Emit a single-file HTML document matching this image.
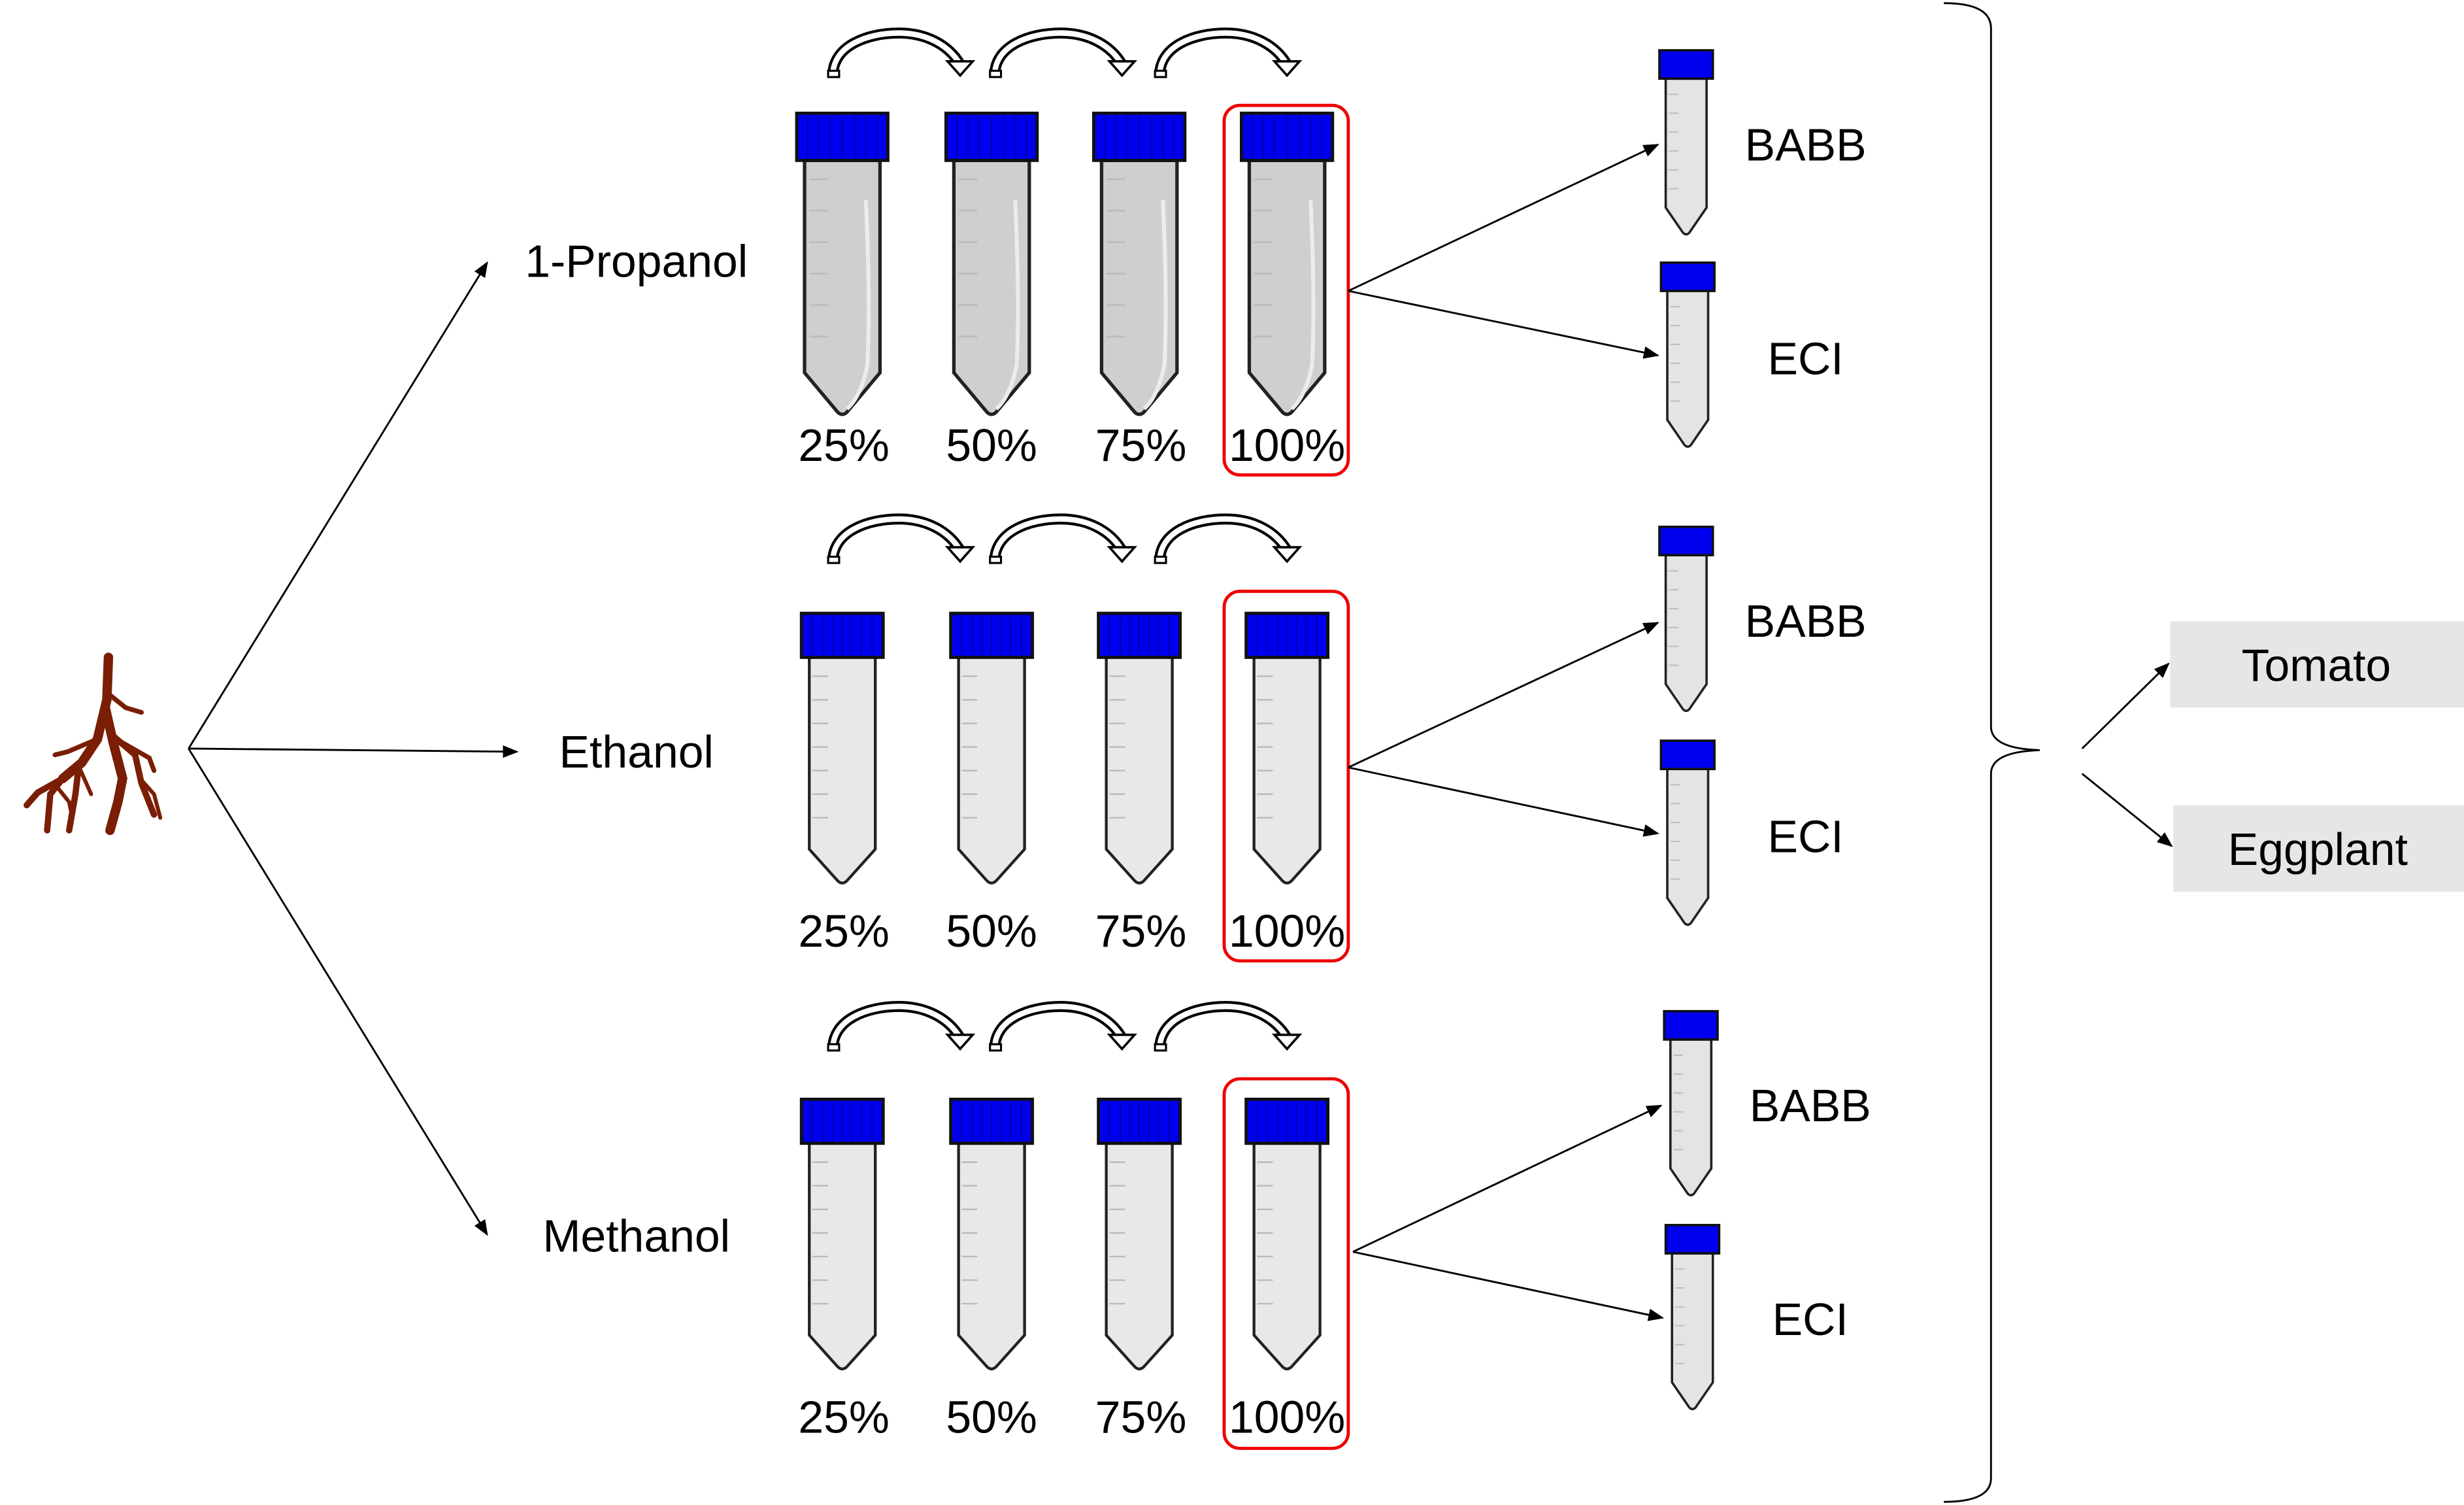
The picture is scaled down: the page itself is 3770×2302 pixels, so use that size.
<!DOCTYPE html>
<html><head><meta charset="utf-8"><style>
html,body{margin:0;padding:0;background:#fff;}
svg{display:block;}
text{font-family:"Liberation Sans",sans-serif;fill:#000;}
</style></head><body>
<svg width="3770" height="2302" viewBox="0 0 1568 957" preserveAspectRatio="none" xmlns="http://www.w3.org/2000/svg">
<defs>
<marker id="ah" markerWidth="10" markerHeight="8" refX="9" refY="4" orient="auto" markerUnits="userSpaceOnUse">
<path d="M0,0 L10,4 L0,8 Z" fill="#000"/>
</marker>
<g id="tubeA">
<path d="M-24,30 L-24,165 L-3,190 Q0,193 3,190 L24,165 L24,30 Z" fill="#cfcfcf" stroke="#222" stroke-width="2.2"/>
<path d="M15,55 Q18,120 16,160 Q12,180 3,188" fill="none" stroke="#ececec" stroke-width="2.5"/>
<g stroke="#bdbdbd" stroke-width="1.2">
<line x1="-21" y1="42" x2="-9" y2="42"/><line x1="-21" y1="62" x2="-9" y2="62"/><line x1="-21" y1="82" x2="-9" y2="82"/><line x1="-21" y1="102" x2="-9" y2="102"/><line x1="-21" y1="122" x2="-9" y2="122"/><line x1="-21" y1="142" x2="-9" y2="142"/>
</g>
<rect x="-29" y="0" width="58" height="30" fill="#0000ee" stroke="#111" stroke-width="2"/>
<g stroke="#0000a0" stroke-width="0.8"><line x1="-22" y1="2" x2="-22" y2="28"/><line x1="-15" y1="2" x2="-15" y2="28"/><line x1="-8" y1="2" x2="-8" y2="28"/><line x1="0" y1="2" x2="0" y2="28"/><line x1="8" y1="2" x2="8" y2="28"/><line x1="15" y1="2" x2="15" y2="28"/><line x1="22" y1="2" x2="22" y2="28"/></g>
</g>
<g id="tubeB">
<path d="M-21,28 L-21,150 L-3,170 Q0,173 3,170 L21,150 L21,28 Z" fill="#e8e8e8" stroke="#222" stroke-width="1.8"/>
<g stroke="#bbb" stroke-width="1"><line x1="-19" y1="40" x2="-9" y2="40"/><line x1="-19" y1="55" x2="-9" y2="55"/><line x1="-19" y1="70" x2="-9" y2="70"/><line x1="-19" y1="85" x2="-9" y2="85"/><line x1="-19" y1="100" x2="-9" y2="100"/><line x1="-19" y1="115" x2="-9" y2="115"/><line x1="-19" y1="130" x2="-9" y2="130"/></g>
<rect x="-26" y="0" width="52" height="28" fill="#0000ee" stroke="#111" stroke-width="2"/>
<g stroke="#0000a0" stroke-width="0.8"><line x1="-19" y1="2" x2="-19" y2="26"/><line x1="-12" y1="2" x2="-12" y2="26"/><line x1="-6" y1="2" x2="-6" y2="26"/><line x1="0" y1="2" x2="0" y2="26"/><line x1="6" y1="2" x2="6" y2="26"/><line x1="12" y1="2" x2="12" y2="26"/><line x1="19" y1="2" x2="19" y2="26"/></g>
</g>
<g id="tubeS">
<path d="M-13,18 L-13,100 L-2,116 Q0,118 2,116 L13,100 L13,18 Z" fill="#e4e4e4" stroke="#222" stroke-width="1.5"/>
<g stroke="#bbb" stroke-width="0.8"><line x1="-11" y1="28" x2="-5" y2="28"/><line x1="-11" y1="40" x2="-5" y2="40"/><line x1="-11" y1="52" x2="-5" y2="52"/><line x1="-11" y1="64" x2="-5" y2="64"/><line x1="-11" y1="76" x2="-5" y2="76"/><line x1="-11" y1="88" x2="-5" y2="88"/></g>
<rect x="-17" y="0" width="34" height="18" fill="#0000ee" stroke="#111" stroke-width="1.5"/>
</g>
<g id="carrow">
<path d="M3,27 C3,8 25,0 45,0 C63,0 77,8 84,20" fill="none" stroke="#000" stroke-width="7"/>
<path d="M3,27 C3,8 25,0 45,0 C63,0 77,8 84,20" fill="none" stroke="#fff" stroke-width="3.5"/>
<rect x="0" y="24" width="7" height="4" fill="#fff" stroke="#000" stroke-width="1.3"/>
<polygon points="76,18 92,18 84,27" fill="#fff" stroke="#000" stroke-width="1.5"/>
</g>
<g id="pct">
<text x="0" y="0" font-size="29" text-anchor="middle">25%</text>
</g>
</defs>

<!-- root -->
<g stroke="#7a1e05" stroke-linecap="round" fill="none">
<path d="M69,418 L68,445 L62,470 L52,485 L40,495" stroke-width="6"/>
<path d="M67,450 L72,472 L78,495 L75,510 L70,528" stroke-width="6"/>
<path d="M40,495 L24,504 L17,512" stroke-width="4"/>
<path d="M40,495 L32,505 L30,528" stroke-width="4"/>
<path d="M50,488 L48,505 L44,528" stroke-width="4"/>
<path d="M72,468 L86,480 L90,498 L98,518" stroke-width="4"/>
<path d="M74,470 L95,482 L98,490" stroke-width="3"/>
<path d="M62,470 L43,478 L35,480" stroke-width="3"/>
<path d="M70,442 L80,450 L90,453" stroke-width="3"/>
<path d="M50,487 L58,505" stroke-width="2.5"/>
<path d="M36,500 L44,510 L46,520" stroke-width="2.5"/>
<path d="M89,495 L98,505 L102,520" stroke-width="2.5"/>
</g>

<!-- root arrows -->
<g stroke="#000" stroke-width="1.2" marker-end="url(#ah)">
<line x1="120" y1="476" x2="310" y2="167"/>
<line x1="120" y1="476" x2="329" y2="478"/>
<line x1="120" y1="476" x2="310" y2="785"/>
</g>
<text x="405" y="176" font-size="29" text-anchor="middle">1-Propanol</text>
<text x="405" y="488" font-size="29" text-anchor="middle">Ethanol</text>
<text x="405" y="796" font-size="29" text-anchor="middle">Methanol</text>

<!-- row 1 -->
<use href="#carrow" x="527" y="21"/><use href="#carrow" x="630" y="21"/><use href="#carrow" x="735" y="21"/>
<use href="#tubeA" x="536" y="72"/><use href="#tubeA" x="631" y="72"/><use href="#tubeA" x="725" y="72"/><use href="#tubeA" x="819" y="72"/>
<rect x="779" y="67" width="79" height="235" rx="10" fill="none" stroke="#e00" stroke-width="2"/>
<g font-size="29" text-anchor="middle"><text x="537" y="293">25%</text><text x="631" y="293">50%</text><text x="726" y="293">75%</text><text x="819" y="293">100%</text></g>

<!-- row 2 -->
<use href="#carrow" x="527" y="330"/><use href="#carrow" x="630" y="330"/><use href="#carrow" x="735" y="330"/>
<use href="#tubeB" x="536" y="390"/><use href="#tubeB" x="631" y="390"/><use href="#tubeB" x="725" y="390"/><use href="#tubeB" x="819" y="390"/>
<rect x="779" y="376" width="79" height="235" rx="10" fill="none" stroke="#e00" stroke-width="2"/>
<g font-size="29" text-anchor="middle"><text x="537" y="602">25%</text><text x="631" y="602">50%</text><text x="726" y="602">75%</text><text x="819" y="602">100%</text></g>

<!-- row 3 -->
<use href="#carrow" x="527" y="640"/><use href="#carrow" x="630" y="640"/><use href="#carrow" x="735" y="640"/>
<use href="#tubeB" x="536" y="699"/><use href="#tubeB" x="631" y="699"/><use href="#tubeB" x="725" y="699"/><use href="#tubeB" x="819" y="699"/>
<rect x="779" y="686" width="79" height="235" rx="10" fill="none" stroke="#e00" stroke-width="2"/>
<g font-size="29" text-anchor="middle"><text x="537" y="911">25%</text><text x="631" y="911">50%</text><text x="726" y="911">75%</text><text x="819" y="911">100%</text></g>

<!-- to small tubes -->
<g stroke="#000" stroke-width="1.2" marker-end="url(#ah)">
<line x1="858" y1="185" x2="1055" y2="92"/><line x1="858" y1="185" x2="1055" y2="226"/>
<line x1="858" y1="488" x2="1055" y2="396"/><line x1="858" y1="488" x2="1055" y2="530"/>
<line x1="861" y1="796" x2="1057" y2="703"/><line x1="861" y1="796" x2="1058" y2="838"/>
</g>
<use href="#tubeS" x="1073" y="32"/><use href="#tubeS" x="1074" y="167"/>
<use href="#tubeS" x="1073" y="335"/><use href="#tubeS" x="1074" y="471"/>
<use href="#tubeS" x="1076" y="643"/><use href="#tubeS" x="1077" y="779"/>
<g font-size="29" text-anchor="middle">
<text x="1149" y="102">BABB</text><text x="1149" y="238">ECI</text>
<text x="1149" y="405">BABB</text><text x="1149" y="542">ECI</text>
<text x="1152" y="713">BABB</text><text x="1152" y="849">ECI</text>
</g>

<!-- brace -->
<path d="M1237,2 Q1267,2 1267,18 L1267,462 Q1267,476 1298,477 Q1267,478 1267,492 L1267,940 Q1267,955 1237,955" fill="none" stroke="#000" stroke-width="1.2"/>
<g stroke="#000" stroke-width="1.2" marker-end="url(#ah)">
<line x1="1325" y1="476" x2="1380" y2="422"/>
<line x1="1325" y1="492" x2="1382" y2="538"/>
</g>
<rect x="1381" y="395" width="187" height="55" fill="#e6e6e6"/>
<rect x="1383" y="512" width="185" height="55" fill="#e6e6e6"/>
<text x="1474" y="433" font-size="29" text-anchor="middle">Tomato</text>
<text x="1475" y="550" font-size="29" text-anchor="middle">Eggplant</text>
</svg>
</body></html>
